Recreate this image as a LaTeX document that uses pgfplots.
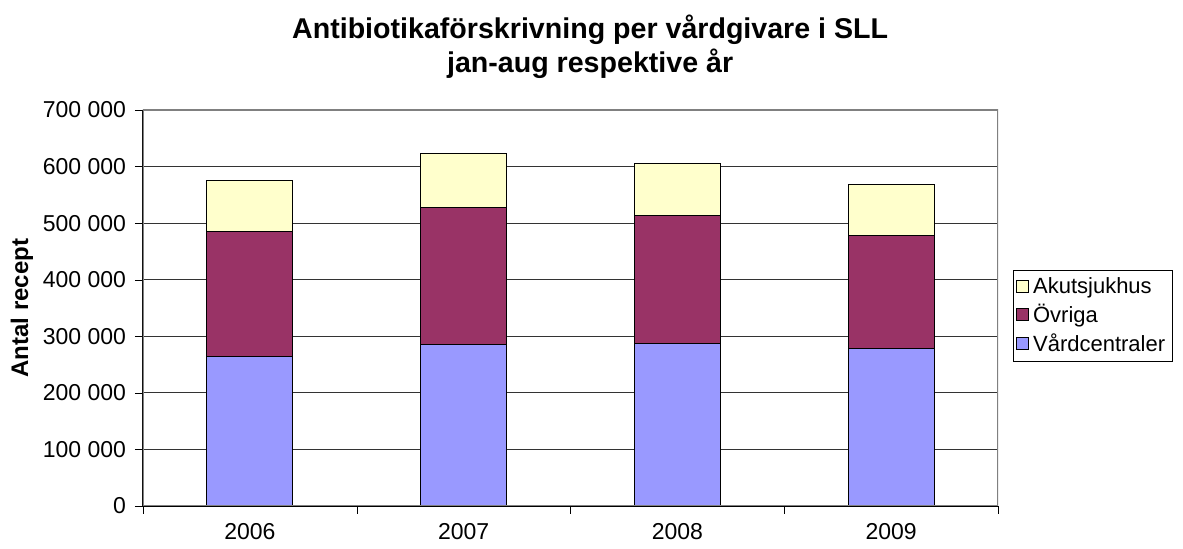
\documentclass[border=0pt]{standalone}
\usepackage{pgfplots}
\pgfplotsset{compat=1.18}
\usepackage{fontspec}
\setmainfont{Liberation Sans}
\definecolor{vard}{HTML}{9999FF}
\definecolor{ovr}{HTML}{993366}
\definecolor{akut}{HTML}{FFFFCC}
\begin{document}
\begin{tikzpicture}
\useasboundingbox (-71.5pt,-21.5pt) rectangle (520pt,253pt);
\begin{axis}[
  at={(0,0)}, anchor=south west,
  scale only axis, width=427.5pt, height=198pt,
  ybar stacked, bar width=43pt,
  xmin=-0.5, xmax=3.5, ymin=0, ymax=700000,
  xtick={0,1,2,3}, xticklabels={2006,2007,2008,2009},
  minor xtick={-0.5,0.5,1.5,2.5,3.5},
  ytick={0,100000,200000,300000,400000,500000,600000,700000},
  yticklabels={0,100 000,200 000,300 000,400 000,500 000,600 000,700 000},
  tick align=outside, tick pos=left,
  major tick length=4pt, minor tick length=4pt,
  x tick style={draw=none},
  minor x tick style={draw=black},
  y tick style={black},
  axis x line*=bottom, axis y line*=left,
  axis line style={black, line width=0.6pt},
  ymajorgrids, grid style={black!80, line width=0.5pt},
  scaled y ticks=false,
  yticklabel style={font=\fontsize{11.5}{12}\selectfont, xshift=-1pt},
  xticklabel style={font=\fontsize{11.5}{12}\selectfont, yshift=-1pt},
  ylabel={\bfseries Antal recept},
  ylabel style={font=\fontsize{12}{13}\selectfont, yshift=-2pt},
  title={\bfseries Antibiotikaförskrivning per vårdgivare i SLL\\ \bfseries jan-aug respektive år},
  title style={font=\fontsize{14.3}{17}\selectfont, align=center, at={(0.523,1)}, yshift=6pt},
  legend style={at={(1.0175,0.48)}, anchor=west, draw=black, font=\fontsize{11}{16}\selectfont,
    inner xsep=1.5pt, inner ysep=1.5pt, row sep=0pt, cells={anchor=west}},
  legend image code/.code={\draw[#1, draw=black] (0cm,-0.1cm) rectangle (0.21cm,0.12cm);},
  reverse legend,
  every axis plot/.append style={draw=black, line width=0.4pt},
]
\draw[gray, line width=0.6pt] (rel axis cs:0,0) rectangle (rel axis cs:1,1);
\addplot[fill=vard] coordinates {(0,264000) (1,285000) (2,288000) (3,278000)};
\addplot[fill=ovr] coordinates {(0,222000) (1,243000) (2,225000) (3,200000)};
\addplot[fill=akut] coordinates {(0,89000) (1,95000) (2,93000) (3,90000)};
\legend{Vårdcentraler, Övriga, Akutsjukhus}
\end{axis}
\end{tikzpicture}
\end{document}
